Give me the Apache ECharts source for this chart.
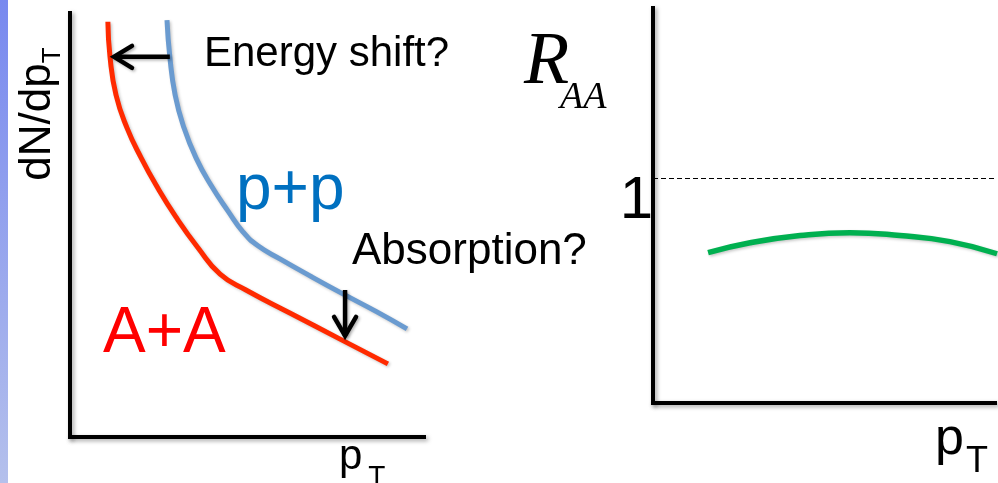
<!DOCTYPE html>
<html>
<head>
<meta charset="utf-8">
<script src="https://cdn.jsdelivr.net/npm/echarts@6/dist/echarts.min.js"></script>
<style>html,body{margin:0;padding:0;background:#fff}#c{width:998px;height:483px}</style>
</head>
<body>
<div id="c"></div>
<script>
// ---- data (schematic units) ----
// left panel: invariant yield dN/dpT vs pT
const ppPT     = [2.74, 2.82, 2.97, 3.22, 3.56, 3.98, 4.46, 4.89, 5.31, 5.93, 6.78, 7.71, 8.67, 9.52];
const ppYield  = [11.80, 10.76, 9.68, 8.75, 7.90, 7.13, 6.40, 5.80, 5.41, 5.04, 4.56, 4.05, 3.54, 3.06];
const aaPT     = [1.07, 1.13, 1.30, 1.61, 2.01, 2.46, 2.99, 3.62, 4.24, 4.97, 6.21, 7.63, 8.98];
const aaYield  = [11.75, 10.76, 9.68, 8.75, 7.90, 7.08, 6.23, 5.35, 4.61, 4.16, 3.51, 2.77, 2.07];
// annotation arrows (from -> to)
const energyShiftArrow = [[2.82, 10.76], [1.13, 10.76]];
const absorptionArrow  = [[7.77, 4.16], [7.77, 2.75]];
// right panel: nuclear modification factor
const raaPT    = [1.61, 2.84, 4.30, 5.76, 7.22, 8.68, 10.06];
const raaValue = [0.670, 0.714, 0.746, 0.759, 0.746, 0.719, 0.665];
const raaReference = 1;
const raaTicks = [1];

const chart = echarts.init(document.getElementById('c'), null, {renderer: 'canvas'});

const axisLineStyle = {
  color: '#000', width: 4, cap: 'square',
  shadowColor: 'rgba(0,0,0,0.35)', shadowBlur: 4, shadowOffsetX: 2, shadowOffsetY: 2
};
const curveShadow = {shadowColor: 'rgba(0,0,0,0.22)', shadowBlur: 3, shadowOffsetX: 1.5, shadowOffsetY: 1.5};

function plainAxis(extra) {
  return Object.assign({
    type: 'value',
    axisLine: {show: true, onZero: false, lineStyle: axisLineStyle},
    axisTick: {show: false},
    axisLabel: {show: false},
    splitLine: {show: false}
  }, extra);
}

const sans = '"Liberation Sans", Arial, sans-serif';
const serif = '"Liberation Serif", "Times New Roman", serif';

const textGraphics = [
  {
    type: 'rect', z: -10, silent: true,
    shape: {x: 0, y: 0, width: 8, height: 483},
    style: {fill: new echarts.graphic.LinearGradient(0, 0, 0, 1, [
      {offset: 0, color: '#7889ef'}, {offset: 1, color: '#b4c0ec'}
    ])}
  },
  {
    type: 'text', x: 38, y: 114, rotation: Math.PI / 2, silent: true,
    style: {
      text: '{m|dN/dp}{t|T}', align: 'center', verticalAlign: 'middle', fill: '#000',
      rich: {
        m: {fontSize: 44, fontFamily: sans, lineHeight: 55, fill: '#000'},
        t: {fontSize: 26, fontFamily: sans, lineHeight: 26, verticalAlign: 'bottom', fill: '#000'}
      }
    }
  },
  {
    type: 'text', x: 339, y: 457, silent: true,
    style: {
      text: '{p|p}{t|T}', align: 'left', verticalAlign: 'middle',
      rich: {
        p: {fontSize: 42, fontFamily: sans, lineHeight: 68, fill: '#000'},
        t: {fontSize: 28, fontFamily: sans, lineHeight: 28, verticalAlign: 'bottom', padding: [0, 0, 0, 6], fill: '#000'}
      }
    }
  },
  {
    type: 'text', x: 935, y: 440, silent: true,
    style: {
      text: '{p|p}{t|T}', align: 'left', verticalAlign: 'middle',
      rich: {
        p: {fontSize: 52, fontFamily: sans, lineHeight: 81, fill: '#000'},
        t: {fontSize: 36, fontFamily: sans, lineHeight: 36, verticalAlign: 'bottom', padding: [0, 0, 0, 2], fill: '#000'}
      }
    }
  },
  {
    type: 'text', x: 524, y: 64, silent: true,
    style: {
      text: '{r|R}{s|AA}', align: 'left', verticalAlign: 'middle',
      rich: {
        r: {fontSize: 74, fontFamily: serif, fontStyle: 'italic', lineHeight: 107, width: 36, fill: '#000'},
        s: {fontSize: 38, fontFamily: serif, fontStyle: 'italic', lineHeight: 38, verticalAlign: 'bottom', fill: '#000'}
      }
    }
  },
  {
    type: 'text', x: 204, y: 54, silent: true,
    style: {text: 'Energy shift?', fontSize: 42, fontFamily: sans, fill: '#000', align: 'left', verticalAlign: 'middle'}
  },
  {
    type: 'text', x: 352, y: 252, silent: true,
    style: {text: 'Absorption?', fontSize: 44, fontFamily: sans, fill: '#000', align: 'left', verticalAlign: 'middle'}
  },
  {
    type: 'text', x: 236, y: 191, silent: true,
    style: {text: 'p+p', fontSize: 64, fontFamily: sans, fill: '#0070c0', align: 'left', verticalAlign: 'middle'}
  },
  {
    type: 'text', x: 103, y: 334, silent: true,
    style: {text: 'A+A', fontSize: 64, fontFamily: sans, fill: '#ff0000', align: 'left', verticalAlign: 'middle'}
  }
];

chart.setOption({
  animation: false,
  backgroundColor: '#fff',
  grid: [
    {left: 70, top: 13, width: 354, height: 424},
    {left: 653, top: 8, width: 342, height: 395}
  ],
  xAxis: [
    plainAxis({gridIndex: 0, min: 0, max: 10}),
    plainAxis({gridIndex: 1, min: 0, max: 10})
  ],
  yAxis: [
    plainAxis({gridIndex: 0, min: 0, max: 12}),
    plainAxis({
      gridIndex: 1, min: 0, max: 1.76, interval: 1,
      axisLabel: {
        show: true, margin: 0,
        formatter: function (v) { return raaTicks.indexOf(v) >= 0 ? String(v) : ''; },
        fontSize: 60, fontFamily: sans, color: '#000',
        verticalAlign: 'top', lineHeight: 46
      }
    })
  ],
  series: [
    {
      name: 'p+p', type: 'line', xAxisIndex: 0, yAxisIndex: 0,
      data: ppPT.map((x, i) => [x, ppYield[i]]),
      smooth: 0.5, symbol: 'none', silent: true, z: 2,
      lineStyle: Object.assign({color: '#6a9bd0', width: 5}, curveShadow)
    },
    {
      name: 'A+A', type: 'line', xAxisIndex: 0, yAxisIndex: 0,
      data: aaPT.map((x, i) => [x, aaYield[i]]),
      smooth: 0.5, symbol: 'none', silent: true, z: 3,
      lineStyle: Object.assign({color: '#ff2a00', width: 5}, curveShadow)
    },
    {
      name: 'RAA', type: 'line', xAxisIndex: 1, yAxisIndex: 1,
      data: raaPT.map((x, i) => [x, raaValue[i]]),
      smooth: 0.5, symbol: 'none', silent: true, clip: false, z: 3,
      lineStyle: Object.assign({color: '#00b050', width: 5.5}, curveShadow),
      markLine: {
        silent: true, animation: false,
        symbol: ['none', 'none'],
        label: {show: false},
        lineStyle: {color: '#000', width: 1.2, type: [5, 3]},
        emphasis: {disabled: true},
        data: [{yAxis: raaReference}]
      }
    }
  ],
  graphic: textGraphics
});

// annotation arrows, placed through the left panel's axes
function arrowGraphics(arrow, headLen, headHalf) {
  const a = chart.convertToPixel({xAxisIndex: 0, yAxisIndex: 0}, arrow[0]);
  const b = chart.convertToPixel({xAxisIndex: 0, yAxisIndex: 0}, arrow[1]);
  const dx = b[0] - a[0], dy = b[1] - a[1];
  const len = Math.sqrt(dx * dx + dy * dy);
  const ux = dx / len, uy = dy / len, nx = -uy, ny = ux;
  // pull the mitred tip back so that its outer point lands on the target
  const tx = b[0] - ux * 4, ty = b[1] - uy * 4;
  const style = {stroke: '#000', lineWidth: 4.5, fill: null, lineCap: 'round', lineJoin: 'miter',
    shadowColor: 'rgba(0,0,0,0.3)', shadowBlur: 3, shadowOffsetX: 1.5, shadowOffsetY: 1.5};
  return [
    {type: 'polyline', silent: true, z: 50, shape: {points: [a, [tx, ty]]}, style: Object.assign({}, style, {lineCap: 'butt'})},
    {type: 'polyline', silent: true, z: 50, shape: {points: [
      [tx - ux * headLen + nx * headHalf, ty - uy * headLen + ny * headHalf],
      [tx, ty],
      [tx - ux * headLen - nx * headHalf, ty - uy * headLen - ny * headHalf]
    ]}, style: style}
  ];
}

chart.setOption({
  graphic: textGraphics.concat(
    arrowGraphics(energyShiftArrow, 18, 11),
    arrowGraphics(absorptionArrow, 19, 11)
  )
});
</script>
</body>
</html>
